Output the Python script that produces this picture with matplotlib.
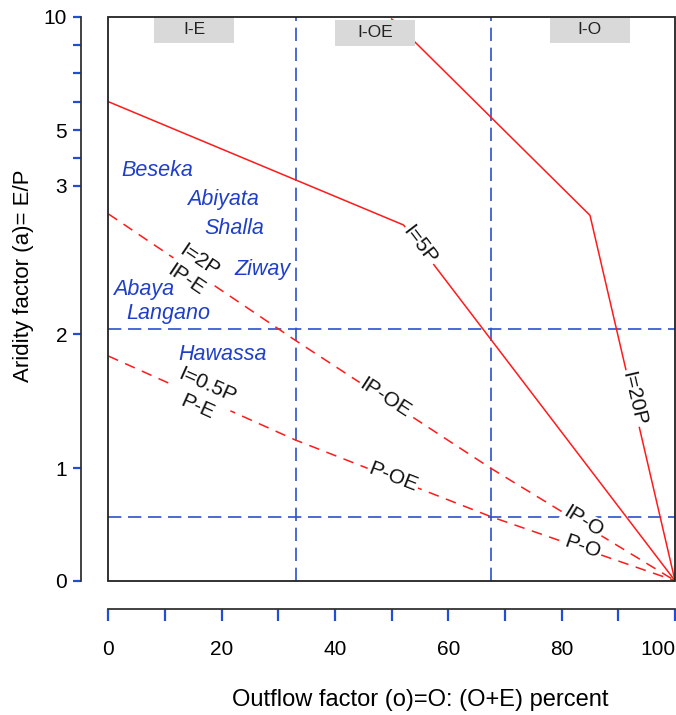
import numpy as np
import matplotlib
matplotlib.use("Agg")
import matplotlib.pyplot as plt
from matplotlib.patches import Rectangle
import matplotlib.transforms as mtransforms

plt.rcParams['font.family'] = ['Liberation Sans', 'DejaVu Sans']

# ---------------- data ----------------
# piecewise-linear aridity axis (as drawn in the original): tick values -> axis units
A_KNOTS = [0, 1, 2, 3, 5, 10]
U_KNOTS = [0, 112.4, 246.7, 395.0, 450.7, 564.0]

y_major = [0, 1, 2, 3, 5, 10]
y_major_labels = ['0', '1', '2', '3', '5', '10']
y_minor = [4, 6.25, 7.5, 8.75]
x_major = [0, 20, 40, 60, 80, 100]
x_minor = [10, 30, 50, 70, 90]

# inflow lines (outflow factor o in %, aridity factor a)
o_I5P = [0, 52.1, 100]
a_I5P = [6.25, 2.735, 0]
o_I20P = [50.0, 85.0, 100]
a_I20P = [9.9, 2.80, 0]
o_IP = [0, 33, 67.5, 100]
a_IP = [2.81, 1.953, 1.0, 0]
o_P = [0, 33, 67.5, 100]
a_P = [1.836, 1.211, 0.57, 0]

# class boundaries
boundary_o = [33.1, 67.5]
boundary_a = [2.035, 0.569]

# lakes
lake_names = ['Beseka', 'Abiyata', 'Shalla', 'Ziway', 'Abaya', 'Langano', 'Hawassa']
lake_o = [8.72, 20.19, 22.23, 27.25, 6.18, 10.59, 20.19]
lake_a = [3.53, 2.91, 2.713, 2.436, 2.297, 2.135, 1.844]

# region header boxes
region_names = ['I-E', 'I-OE', 'I-O']
region_o0 = [8.07, 40.0, 77.9]
region_o1 = [22.2, 54.1, 92.0]

# line labels: text, o, a, rotation
line_labels = [
    ('I=5P', 55.0, 2.60, -52.8),
    ('I=20P', 92.64, 1.521, -77.0),
    ('IP-OE', 48.83, 1.521, -33.0),
    ('IP-O', 83.8, 0.525, -31.5),
    ('P-OE', 50.3, 0.925, -21.3),
    ('P-O', 83.7, 0.297, -19.3),
    ('I=2P\nIP-E', 14.95, 2.43, -34.0),
    ('I=0.5P\nP-E', 16.53, 1.538, -24.1),
]


def fwd(a):
    return np.interp(a, A_KNOTS, U_KNOTS)


def inv(u):
    return np.interp(u, U_KNOTS, A_KNOTS)


RED = '#ff1a1a'
BLUE = '#2a52d0'
TICKBLUE = '#1f4fd8'
LAKEBLUE = '#1f3fc8'

fig = plt.figure(figsize=(6.76, 7.15), dpi=100)
ax = fig.add_axes([108.3 / 676, 1 - 580.7 / 715, 566.7 / 676, 564.0 / 715])
ax.set_yscale('function', functions=(fwd, inv))
ax.set_xlim(0, 100)
ax.set_ylim(0, 10)

# boundaries
for o in boundary_o:
    ax.axvline(o, color=BLUE, lw=1.2, linestyle=(0, (8, 4)), zorder=2)
for a in boundary_a:
    ax.axhline(a, color=BLUE, lw=1.2, linestyle=(0, (8, 4)), zorder=2)

# inflow lines
ax.plot(o_I5P, a_I5P, color=RED, lw=1.1, zorder=3)
ax.plot(o_I20P, a_I20P, color=RED, lw=1.1, zorder=3)
ax.plot(o_IP, a_IP, color=RED, lw=1.1, linestyle=(0, (7, 5)), zorder=3)
ax.plot(o_P, a_P, color=RED, lw=1.1, linestyle=(0, (7, 5)), zorder=3)

# line labels
for txt, o, a, rot in line_labels:
    ax.text(o, a, txt, rotation=rot, ha='center', va='center', fontsize=15,
            color='#111111', rotation_mode='anchor', linespacing=1.3, zorder=4,
            bbox=dict(facecolor='white', edgecolor='none', pad=1.0))

# lake names
for name, o, a in zip(lake_names, lake_o, lake_a):
    ax.text(o, a, name, ha='center', va='center', fontsize=15.5, style='italic',
            color=LAKEBLUE, zorder=4)

# region boxes
btrans = mtransforms.blended_transform_factory(ax.transData, ax.transAxes)
box_y0 = [0.954, 0.9486, 0.954]
box_y1 = [0.999, 0.9941, 1.0]
for name, o0, o1, y0, y1 in zip(region_names, region_o0, region_o1, box_y0, box_y1):
    ax.add_patch(Rectangle((o0, y0), o1 - o0, y1 - y0, transform=btrans,
                           facecolor='#d9d9d9', edgecolor='none', zorder=4,
                           clip_on=False))
    ax.text((o0 + o1) / 2, (y0 + y1) / 2, name, transform=btrans, ha='center',
            va='center', fontsize=12.5, color='#222222', zorder=5)

# frame
ax.add_patch(Rectangle((0, 0), 1, 1, transform=ax.transAxes, fill=False,
                       lw=1.3, edgecolor='#222222', clip_on=False, zorder=6))

# axes / spines
for s in ['top', 'right']:
    ax.spines[s].set_visible(False)
ax.spines['left'].set_position(('outward', 19.9))
ax.spines['bottom'].set_position(('outward', 20.4))
for s in ['left', 'bottom']:
    ax.spines[s].set_color('#333333')
    ax.spines[s].set_linewidth(1.3)

ax.set_yticks(y_major)
ax.set_yticklabels(y_major_labels)
ax.set_yticks(y_minor, minor=True)
ax.set_yticklabels([''] * len(y_minor), minor=True)
ax.set_xticks(x_major)
ax.set_xticklabels([str(v) for v in x_major])
ax.set_xticks(x_minor, minor=True)
ax.set_xticklabels([''] * len(x_minor), minor=True)

ax.tick_params(axis='y', which='both', direction='out', length=5.8, width=1.6,
               color=TICKBLUE, labelsize=15, pad=4)
ax.tick_params(axis='x', which='both', direction='out', length=8.6, width=1.6,
               color=TICKBLUE, labelsize=15, pad=14)
# last x label sits left of its tick so it stays inside the picture
ax.get_xticklabels()[-1].set_horizontalalignment('right')

ax.set_xlabel('Outflow factor (o)=O: (O+E) percent', fontsize=17)
ax.xaxis.set_label_coords(0.551, -0.192)
ax.set_ylabel('Aridity factor (a)= E/P', fontsize=16)
ax.yaxis.set_label_coords(-0.131, 0.540)

fig.savefig('out.png', dpi=100)
